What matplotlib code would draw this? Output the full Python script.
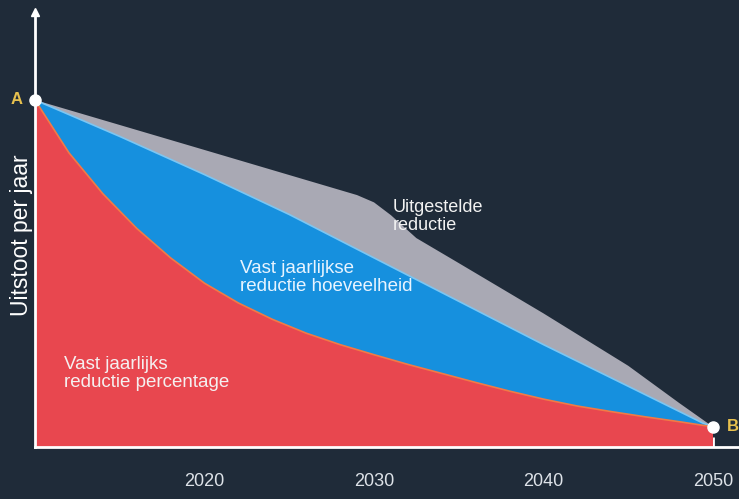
import matplotlib
matplotlib.use("Agg")
import matplotlib.pyplot as plt

# ---- data ----
start_year = 2010
end_year = 2050

gray_years = [2010, 2020, 2029, 2030, 2031, 2032.5, 2035, 2040, 2045, 2048, 2050]
gray_vals = [100, 85.6, 72.6, 70.5, 66.8, 60.2, 53.0, 38.5, 23.4, 12.7, 5.8]

blue_years = [2010, 2015, 2020, 2025, 2030, 2035, 2040, 2045, 2049.4, 2050]
blue_vals = [100, 89.5, 78.5, 67.0, 54.5, 42.0, 29.5, 17.5, 6.9, 5.8]

red_years = [2010, 2012, 2014, 2016, 2018, 2020, 2022, 2024, 2026, 2028, 2030,
             2032, 2034, 2036, 2038, 2040, 2042, 2044, 2046, 2048, 2050]
red_vals = [100, 84.8, 73.0, 63.0, 54.5, 47.2, 41.5, 36.8, 32.8, 29.5, 26.6,
            23.8, 21.2, 18.6, 16.1, 13.8, 11.8, 10.2, 8.7, 7.3, 5.8]

tick_years = [2020, 2030, 2040, 2050]
tick_labels = ["2020", "2030", "2040", "2050"]

labels = {
    "gray": "Uitgestelde\nreductie",
    "blue": "Vast jaarlijkse\nreductie hoeveelheid",
    "red": "Vast jaarlijks\nreductie percentage",
}
ylabel = "Uitstoot per jaar"

# ---- styling ----
BG = "#1f2b39"
GRAY = "#a9a9b4"
BLUE = "#1690de"
RED = "#e8474f"
YELLOW = "#e6c04e"

plt.rcParams["font.family"] = ["Liberation Sans", "DejaVu Sans"]

W, H = 739, 499
fig = plt.figure(figsize=(W / 100, H / 100), dpi=100, facecolor=BG)
ax = fig.add_axes([35 / W, 52 / H, (W - 35) / W, (447 - 12) / H])
ax.set_facecolor(BG)

px_per_year = (713 - 35) / 40.0
ax.set_xlim(start_year, start_year + (W - 35) / px_per_year)
ax.set_ylim(0, (447 - 12) / 3.47)


def poly(years, vals):
    xs = list(years) + [years[-1], years[0]]
    ys = list(vals) + [0, 0]
    return xs, ys


xs, ys = poly(gray_years, gray_vals)
ax.fill(xs, ys, color=GRAY, lw=0, zorder=1)
xs, ys = poly(blue_years, blue_vals)
ax.fill(xs, ys, color=BLUE, lw=0, zorder=2)
ax.plot(blue_years, blue_vals, color="#7cc6f2", lw=1.2, zorder=2.5)
xs, ys = poly(red_years, red_vals)
ax.fill(xs, ys, color=RED, lw=0, zorder=3)
ax.plot(red_years, red_vals, color="#f27a45", lw=1.2, zorder=3.5)

# points A and B
ax.plot([start_year, end_year], [red_vals[0], red_vals[-1]], "o", color="white",
        ms=8, mec="white", zorder=6, clip_on=False)
ax.text(start_year - 18 / px_per_year, 100, "A", color=YELLOW,
        fontsize=12, fontweight="bold", ha="center", va="center")
ax.text(end_year + 20 / px_per_year, red_vals[-1], "B", color=YELLOW,
        fontsize=12, fontweight="bold", ha="center", va="center", clip_on=False)

# region labels
ax.text(2031.1, 71.5, labels["gray"], color="#f2f2f2", fontsize=13,
        ha="left", va="top", linespacing=1.1, zorder=7)
ax.text(2022.1, 54.0, labels["blue"], color="#e8f4ff", fontsize=13.5,
        ha="left", va="top", linespacing=1.1, zorder=7)
ax.text(2011.7, 26.2, labels["red"], color="#f5f0f0", fontsize=13.5,
        ha="left", va="top", linespacing=1.1, zorder=7)

# axes styling
for side in ["top", "right"]:
    ax.spines[side].set_visible(False)
for side in ["left", "bottom"]:
    ax.spines[side].set_color("white")
    ax.spines[side].set_linewidth(2)
    ax.spines[side].set_zorder(5)

ax.set_yticks([])
ax.set_xticks(tick_years)
ax.set_xticklabels(tick_labels)
ax.tick_params(axis="x", direction="in", length=7, width=2, color="white",
               labelcolor="#dde2e8", labelsize=13, pad=19)
for t in ax.xaxis.get_major_ticks():
    t.tick1line.set_zorder(5)

# arrow at the top of the y axis
ax.plot([start_year], [ax.get_ylim()[1]], marker="^", color="white", ms=6,
        clip_on=False, zorder=6)

ax.set_ylabel(ylabel, color="white", fontsize=16.5)
ax.yaxis.set_label_coords(-2 / (W - 35), (447 - 235) / (447 - 12))

fig.savefig("out.png", dpi=100, facecolor=BG)
